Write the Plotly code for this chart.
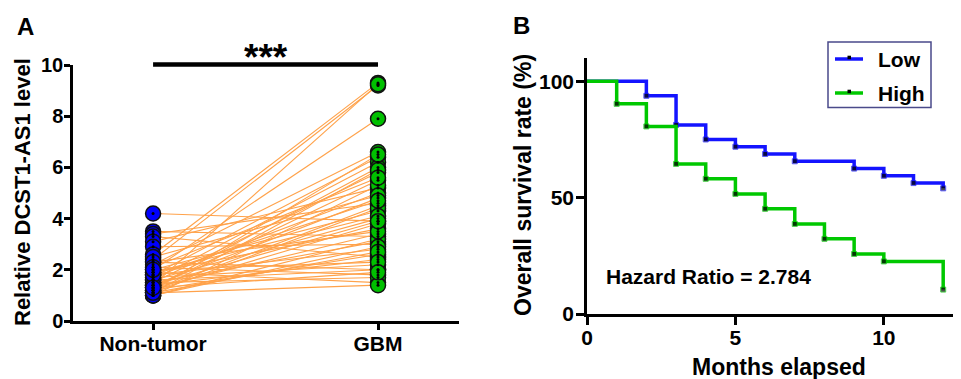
import plotly.graph_objects as go

# ---------------- Panel A data ----------------
groups = ["Non-tumor", "GBM"]
non_tumor = [4.2, 3.5, 3.4, 3.3, 3.1, 2.9, 2.6, 2.4, 2.3, 2.2, 2.1, 2.0, 2.0, 1.9, 1.9,
             1.8, 1.8, 1.7, 1.7, 1.6, 1.6, 1.5, 1.5, 1.5, 1.4, 1.4, 1.4, 1.3, 1.3, 1.3,
             1.2, 1.2, 1.2, 1.1, 1.1, 1.1, 1.0, 1.0, 1.0, 2.5, 2.3, 2.1, 1.9, 1.6, 1.4,
             1.2, 1.1, 1.8, 2.0, 1.3]
gbm = [3.9, 3.3, 4.6, 2.5, 5.2, 3.0, 9.3, 9.2, 2.0, 6.6, 1.8, 7.9, 4.3, 3.6, 1.5,
       6.4, 2.8, 5.0, 2.2, 4.0, 6.2, 3.1, 5.8, 1.7, 9.25, 4.8, 2.4, 6.0, 3.4, 5.5,
       4.5, 2.6, 3.8, 5.9, 1.4, 4.4, 3.2, 2.9, 5.3, 4.9, 3.5, 5.6, 4.1, 2.0, 3.9,
       6.5, 2.7, 4.7, 2.3, 1.9]
a_yticks = [0, 2, 4, 6, 8, 10]
significance = "***"

# ---------------- Panel B data ----------------
low_months = [0, 2, 3, 4, 5, 6, 7, 9, 10, 11, 12]
low_surv = [100, 93.75, 81.25, 75, 71.875, 68.75, 65.625, 62.5, 59.375, 56.25, 54]
high_months = [0, 1, 2, 3, 4, 5, 6, 7, 8, 9, 10, 12]
high_surv = [100, 90.3, 80.6, 64.5, 58.1, 51.6, 45.2, 38.7, 32.3, 25.8, 22.6, 10.5]
series_names = ["Low", "High"]
b_xticks = [0, 5, 10]
b_yticks = [0, 50, 100]
hazard_text = "Hazard Ratio = 2.784"

FONT = "Arial, 'Liberation Sans', sans-serif"
OFF = 8                      # page body margin of the html page
W, H = 961 - OFF, 379 - OFF

def fx(p):
    return (p - OFF) / W

def fy(p):
    return 1 - (p - OFF) / H

BLUE_PT, GREEN_PT = "#0000FF", "#00C000"
BLUE_LN, GREEN_LN = "#1414FF", "#00C800"

fig = go.Figure()

# paired lines
lx, ly = [], []
for a, b in zip(non_tumor, gbm):
    lx += [0, 1, None]
    ly += [a, b, None]
fig.add_trace(go.Scatter(x=lx, y=ly, mode="lines", line=dict(color="#FFA24A", width=1.1),
                         xaxis="x", yaxis="y", showlegend=False, hoverinfo="skip"))
fig.add_trace(go.Scatter(x=[0] * len(non_tumor), y=non_tumor, mode="markers",
                         marker=dict(size=15, color=BLUE_PT, line=dict(color="#111111", width=1.5)),
                         xaxis="x", yaxis="y", showlegend=False, cliponaxis=False))
fig.add_trace(go.Scatter(x=[1] * len(gbm), y=gbm, mode="markers",
                         marker=dict(size=15, color=GREEN_PT, line=dict(color="#111111", width=1.5)),
                         xaxis="x", yaxis="y", showlegend=False, cliponaxis=False))
fig.add_trace(go.Scatter(x=[0] * len(non_tumor) + [1] * len(gbm), y=non_tumor + gbm, mode="markers",
                         marker=dict(size=3, color="black"),
                         xaxis="x", yaxis="y", showlegend=False, cliponaxis=False))

# Panel B curves
msize_low = [0] + [5] * (len(low_months) - 1)
msize_high = [0] + [5] * (len(high_months) - 1)
fig.add_trace(go.Scatter(x=low_months, y=low_surv, mode="lines+markers", name=series_names[0],
                         line=dict(color=BLUE_LN, width=3.5, shape="hv"),
                         marker=dict(symbol="square", size=msize_low, color="black"),
                         xaxis="x2", yaxis="y2", cliponaxis=False, showlegend=False))
fig.add_trace(go.Scatter(x=high_months, y=high_surv, mode="lines+markers", name=series_names[1],
                         line=dict(color=GREEN_LN, width=3.5, shape="hv"),
                         marker=dict(symbol="square", size=msize_high, color="black"),
                         xaxis="x2", yaxis="y2", cliponaxis=False, showlegend=False))

axis_common = dict(showgrid=False, zeroline=False, showline=True, linecolor="black",
                   linewidth=2.5, ticks="outside", tickcolor="black", tickwidth=2.5,
                   automargin=False, fixedrange=True)

# legend drawn by hand (box, samples, labels)
shapes = [
    dict(type="line", xref="x", yref="paper", x0=0, x1=1, y0=fy(64.5), y1=fy(64.5),
         line=dict(color="black", width=4.5)),
    dict(type="rect", xref="paper", yref="paper", x0=fx(828), x1=fx(931), y0=fy(42), y1=fy(107.5),
         line=dict(color="#4A4A8A", width=1.5), fillcolor="white"),
]
annotations = []
for i, (nm, col) in enumerate(zip(series_names, [BLUE_LN, GREEN_LN])):
    yy = [59, 93][i]
    shapes.append(dict(type="line", xref="paper", yref="paper", x0=fx(835), x1=fx(863),
                       y0=fy(yy), y1=fy(yy), line=dict(color=col, width=3.5)))
    shapes.append(dict(type="rect", xref="paper", yref="paper", x0=fx(847.5), x1=fx(851),
                       y0=fy(yy + 0.2), y1=fy(yy - 3.3), line=dict(width=0), fillcolor="black"))
    annotations.append(dict(text=f"<b>{nm}</b>", xref="paper", yref="paper", x=fx(876), y=fy(yy),
                            xanchor="left", yanchor="middle", showarrow=False,
                            font=dict(size=21)))

annotations += [
    dict(text=f"<b>{significance}</b>", xref="x", yref="paper", x=0.5, y=fy(57.5),
         xanchor="center", yanchor="middle", showarrow=False, font=dict(size=37)),
    dict(text="<b>Relative DCST1-AS1 level</b>", xref="paper", yref="paper",
         x=fx(22), y=fy(192), xanchor="center", yanchor="middle", textangle=-90,
         showarrow=False, font=dict(size=22)),
    dict(text="<b>Overall survival rate (%)</b>", xref="paper", yref="paper",
         x=fx(523), y=fy(185), xanchor="center", yanchor="middle", textangle=-90,
         showarrow=False, font=dict(size=23)),
    dict(text="<b>Months elapsed</b>", xref="paper", yref="paper",
         x=fx(779), y=fy(367), xanchor="center", yanchor="middle",
         showarrow=False, font=dict(size=23)),
    dict(text=f"<b>{hazard_text}</b>", xref="paper", yref="paper",
         x=fx(708), y=fy(276), xanchor="center", yanchor="middle",
         showarrow=False, font=dict(size=21)),
    dict(text="<b>A</b>", xref="paper", yref="paper", x=fx(25), y=fy(26.5),
         xanchor="center", yanchor="middle", showarrow=False, font=dict(size=24)),
    dict(text="<b>B</b>", xref="paper", yref="paper", x=fx(521), y=fy(26),
         xanchor="center", yanchor="middle", showarrow=False, font=dict(size=24)),
]

fig.update_layout(
    template="none",
    width=W, height=H,
    margin=dict(l=0, r=0, t=0, b=0, autoexpand=False),
    paper_bgcolor="white", plot_bgcolor="white",
    font=dict(family=FONT, color="black"),
    showlegend=False,
    xaxis=dict(domain=[fx(73), fx(459)], range=[-0.356, 1.36], tickvals=[0, 1],
               ticktext=[f"<b>{g}</b>" for g in groups], ticklen=6, ticklabelstandoff=-4,
               tickfont=dict(size=21), anchor="y", **axis_common),
    yaxis=dict(domain=[fy(321), fy(65)], range=[0, 10], tickvals=a_yticks,
               ticktext=[f"<b>{v}</b>" for v in a_yticks], ticklen=6, ticklabelstandoff=-3,
               tickfont=dict(size=20), anchor="x", **axis_common),
    xaxis2=dict(domain=[fx(587), 1.0], range=[0, 12.6], tickvals=b_xticks,
                ticktext=[f"<b>{v}</b>" for v in b_xticks], ticklen=8, ticklabelstandoff=-5,
                tickfont=dict(size=21), anchor="y2", **axis_common),
    yaxis2=dict(domain=[fy(314), fy(58)], range=[0, 110], tickvals=b_yticks,
                ticktext=[f"<b>{v}</b>" for v in b_yticks], ticklen=8, ticklabelstandoff=-2,
                tickfont=dict(size=21), anchor="x2", **axis_common),
    shapes=shapes,
    annotations=annotations,
)

fig.write_html("out.html")
